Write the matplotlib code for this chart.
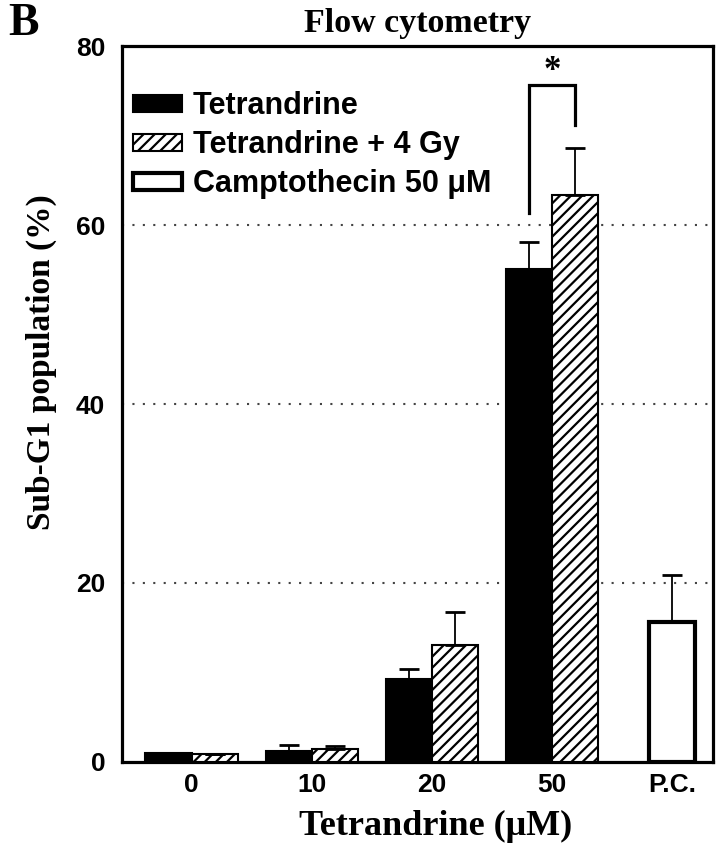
import numpy as np
import matplotlib
matplotlib.use('Agg')
import matplotlib.pyplot as plt

# data
groups = ['0', '10', '20', '50', 'P.C.']
tet = [1.0, 1.2, 9.3, 55.1]
tet_err = [0.0, 0.7, 1.1, 3.0]
tet_rt = [0.9, 1.45, 13.1, 63.4]
tet_rt_err = [0.0, 0.3, 3.7, 5.2]
pc = [15.6]
pc_err = [5.3]

sans = 'Liberation Sans'
serif = 'Liberation Serif'
plt.rcParams['hatch.linewidth'] = 1.6

fig = plt.figure(figsize=(7.21, 8.51), dpi=100)
ax = fig.add_axes([0.1692, 0.1046, 0.8197, 0.8413])

x = np.arange(len(groups))
w = 0.385
err_kw = dict(ecolor='black', elinewidth=1.3, capsize=7, capthick=2.0)

ax.bar(x[:4] - w / 2, tet, w, color='black', edgecolor='black', linewidth=1.5,
       yerr=[np.zeros(4), tet_err], error_kw=err_kw, label='Tetrandrine', zorder=3)
ax.bar(x[:4] + w / 2, tet_rt, w, color='white', edgecolor='black', linewidth=1.5,
       hatch='///', yerr=[np.zeros(4), tet_rt_err], error_kw=err_kw,
       label='Tetrandrine + 4 Gy', zorder=3)
ax.bar(x[4:], pc, w, color='white', edgecolor='black', linewidth=3,
       yerr=[np.zeros(1), pc_err], error_kw=err_kw,
       label='Camptothecin 50 \u03bcM', zorder=3)

# significance bracket
xl, xr = x[3] - w / 2, x[3] + w / 2
ax.plot([xl, xl, xr, xr], [61.3, 75.7, 75.7, 71.2], color='black', lw=2.3,
        solid_joinstyle='miter', zorder=4)
ax.text(x[3], 77.2, '*', ha='center', va='center', fontsize=25,
        fontfamily=serif, fontweight='bold')

ax.set_xlim(-0.58, 4.34)
ax.set_ylim(0, 80)
ax.set_yticks([0, 20, 40, 60, 80])
ax.set_xticks(x)
ax.set_xticklabels(groups)
ax.tick_params(length=0, pad=8)
for lab in ax.get_xticklabels() + ax.get_yticklabels():
    lab.set_fontfamily(sans)
    lab.set_fontweight('bold')
    lab.set_fontsize(19)
ax.tick_params(axis='y', pad=12)
for y in [20, 40, 60]:
    ax.axhline(y, color='#444444', lw=1.5, ls=(0, (1, 4)), zorder=1)
for s in ax.spines.values():
    s.set_linewidth(2.3)

ax.set_ylabel('Sub-G1 population (%)', fontfamily=serif, fontweight='bold', fontsize=24)
ax.set_xlabel('Tetrandrine (\u03bcM)', fontfamily=serif, fontweight='bold', fontsize=26)
ax.yaxis.set_label_coords(-0.11, 0.559)
ax.xaxis.set_label_coords(0.53, -0.067)
ax.set_title('Flow cytometry', fontfamily=serif, fontweight='bold', fontsize=24.5, pad=10)
fig.text(0.012, 0.972, 'B', fontfamily=serif, fontweight='bold', fontsize=33,
         va='center', ha='left')

leg = ax.legend(loc='upper left', bbox_to_anchor=(0.0, 0.952), frameon=False,
                prop=dict(family=sans, weight='bold', size=22),
                handlelength=1.6, handleheight=0.49, handletextpad=0.36,
                labelspacing=0.29, borderaxespad=0.0, borderpad=0.36)

fig.savefig('out.png', dpi=100)
